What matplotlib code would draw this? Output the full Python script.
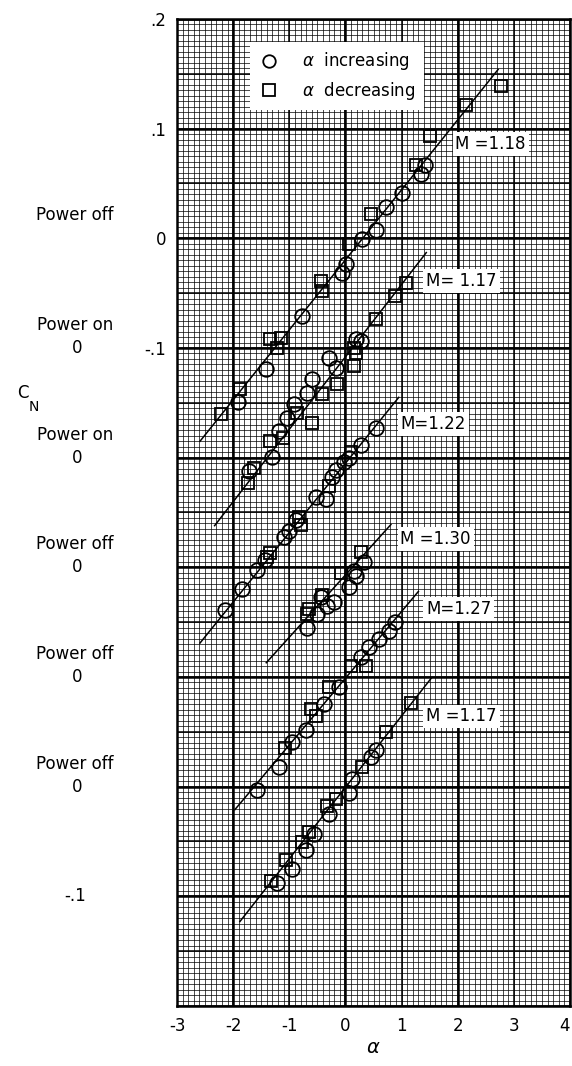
import numpy as np
import matplotlib.pyplot as plt
from matplotlib.lines import Line2D
from matplotlib.transforms import blended_transform_factory

plt.rcParams["font.family"] = ["DejaVu Sans"]

# each run is drawn on its own C_N scale, shifted down by 0.1 from the one above
panel_offsets = [0.0, -0.1, -0.2, -0.3, -0.4, -0.5]
mach_labels = ["M =1.18", "M= 1.17", "M=1.22", "M =1.30", "M=1.27", "M =1.17"]
power_labels = ["Power off", "Power on", "Power on", "Power off", "Power off", "Power off"]

# run 1, M = 1.18, power off
r1_circ_alpha = [1.42, 1.34, 1.00, 0.73, 0.54, 0.29, 0.01, -0.06, -0.77, -1.42, -1.92]
r1_circ_cn = [0.067, 0.059, 0.041, 0.029, 0.008, -0.001, -0.023, -0.032, -0.071, -0.119, -0.149]
r1_sq_alpha = [2.77, 2.15, 1.51, 1.25, 0.45, 0.06, -0.43, -0.42, -1.35, -1.14, -1.21, -1.88, -2.22]
r1_sq_cn = [0.139, 0.122, 0.093, 0.067, 0.022, -0.005, -0.039, -0.048, -0.092, -0.091, -0.100, -0.137, -0.160]
r1_fit_alpha = [-2.59, 2.72]
r1_fit_cn = [-0.185, 0.154]

# run 2, M = 1.17, power on
r2_circ_alpha = [0.19, 0.27, -0.29, -0.17, -0.59, -0.68, -0.91, -1.04, -1.18, -1.30, -1.71]
r2_circ_cn = [0.008, 0.006, -0.009, -0.018, -0.028, -0.041, -0.051, -0.064, -0.076, -0.099, -0.112]
r2_sq_alpha = [1.07, 0.89, 0.54, 0.15, 0.19, 0.15, -0.15, -0.42, -0.86, -0.59, -1.35, -1.12, -1.62, -1.74]
r2_sq_cn = [0.059, 0.047, 0.026, 0.000, -0.005, -0.016, -0.033, -0.042, -0.059, -0.068, -0.085, -0.082, -0.109, -0.123]
r2_fit_alpha = [-2.33, 1.44]
r2_fit_cn = [-0.162, 0.087]

# run 3, M = 1.22, power on
r3_circ_alpha = [0.54, 0.27, 0.06, -0.03, -0.17, -0.24, -0.52, -0.35, -0.88, -1.00, -1.09, -1.44, -1.58, -1.85, -2.15]
r3_circ_cn = [0.027, 0.012, 0.000, -0.004, -0.011, -0.018, -0.036, -0.038, -0.057, -0.067, -0.072, -0.093, -0.102, -0.120, -0.139]
r3_sq_alpha = [0.10, -0.29, -0.82, -0.79, -1.35, -1.39]
r3_sq_cn = [0.005, -0.026, -0.054, -0.061, -0.087, -0.091]
r3_fit_alpha = [-2.59, 0.95]
r3_fit_cn = [-0.169, 0.055]

# run 4, M = 1.30, power off
r4_circ_alpha = [0.33, 0.15, 0.19, 0.06, -0.20, -0.43, -0.50, -0.68, -0.33]
r4_circ_cn = [0.005, -0.003, -0.008, -0.018, -0.032, -0.027, -0.043, -0.055, -0.035]
r4_sq_alpha = [0.27, -0.08, -0.42, -0.65, -0.68]
r4_sq_cn = [0.014, -0.005, -0.025, -0.038, -0.043]
r4_fit_alpha = [-1.41, 0.81]
r4_fit_cn = [-0.087, 0.039]

# run 5, M = 1.27, power off
r5_circ_alpha = [0.89, 0.77, 0.59, 0.42, 0.27, -0.12, -0.38, -0.70, -0.95, -1.18, -1.57]
r5_circ_cn = [0.050, 0.042, 0.035, 0.027, 0.018, -0.009, -0.025, -0.048, -0.059, -0.082, -0.103]
r5_sq_alpha = [0.36, 0.10, -0.29, -0.52, -0.61, -1.07]
r5_sq_cn = [0.010, 0.010, -0.009, -0.036, -0.029, -0.065]
r5_fit_alpha = [-1.97, 1.30]
r5_fit_cn = [-0.121, 0.078]

# run 6, M = 1.17, power off
r6_circ_alpha = [0.54, 0.45, 0.12, 0.06, -0.29, -0.56, -0.70, -0.96, -1.21]
r6_circ_cn = [0.033, 0.027, 0.007, -0.006, -0.025, -0.043, -0.058, -0.075, -0.088]
r6_sq_alpha = [1.16, 0.73, 0.29, -0.17, -0.33, -0.65, -0.77, -1.05, -1.32]
r6_sq_cn = [0.076, 0.050, 0.018, -0.011, -0.018, -0.041, -0.050, -0.067, -0.086]
r6_fit_alpha = [-1.88, 1.53]
r6_fit_cn = [-0.123, 0.099]

runs = [
    (r1_circ_alpha, r1_circ_cn, r1_sq_alpha, r1_sq_cn, r1_fit_alpha, r1_fit_cn),
    (r2_circ_alpha, r2_circ_cn, r2_sq_alpha, r2_sq_cn, r2_fit_alpha, r2_fit_cn),
    (r3_circ_alpha, r3_circ_cn, r3_sq_alpha, r3_sq_cn, r3_fit_alpha, r3_fit_cn),
    (r4_circ_alpha, r4_circ_cn, r4_sq_alpha, r4_sq_cn, r4_fit_alpha, r4_fit_cn),
    (r5_circ_alpha, r5_circ_cn, r5_sq_alpha, r5_sq_cn, r5_fit_alpha, r5_fit_cn),
    (r6_circ_alpha, r6_circ_cn, r6_sq_alpha, r6_sq_cn, r6_fit_alpha, r6_fit_cn),
]

# where the Mach number tags sit (left edge, data coords)
label_pos = [(1.96, 0.086), (1.44, -0.039), (0.98, -0.169), (0.98, -0.274), (1.44, -0.338), (1.44, -0.436)]

x_ticks = [-3, -2, -1, 0, 1, 2, 3, 4]
y_ticks = [0.2, 0.1, 0.0, -0.1]
y_tick_labels = [".2", ".1", "0", "-.1"]

fig = plt.figure(figsize=(5.72, 10.66), dpi=100)
ax = fig.add_axes([177 / 572, 60 / 1066, 393 / 572, 987 / 1066])
ax.set_xlim(-3, 4)
ax.set_ylim(-0.70, 0.20)

# graph paper
ymin, ymax = ax.get_ylim()
ax.vlines(np.arange(-3, 4.001, 0.1), ymin, ymax, color="black", lw=0.55, alpha=0.9, zorder=0)
ax.hlines(np.arange(-0.70, 0.2001, 0.005), -3, 4, color="black", lw=0.55, alpha=0.9, zorder=0)
ax.vlines(np.arange(-3, 4.001, 1.0), ymin, ymax, color="black", lw=1.1, zorder=0)
ax.hlines(np.arange(-0.70, 0.2001, 0.05), -3, 4, color="black", lw=1.1, zorder=0)
ax.vlines([-2, 0, 2], ymin, ymax, color="black", lw=1.8, zorder=0)
ax.hlines(np.arange(-0.60, 0.2001, 0.1), -3, 4, color="black", lw=1.8, zorder=0)

mk = dict(linestyle="none", mfc="none", mec="black", mew=1.3, zorder=3)
for i, (ca, cc, sa, sc, fa, fc) in enumerate(runs):
    off = panel_offsets[i]
    ax.plot(fa, np.array(fc) + off, color="black", lw=1.1, zorder=2)
    ax.plot(ca, np.array(cc) + off, marker="o", ms=10.5, **mk)
    ax.plot(sa, np.array(sc) + off, marker="s", ms=9, **mk)
    lx, ly = label_pos[i]
    ax.text(lx, ly, mach_labels[i], fontsize=12, ha="left", va="center", zorder=4,
            bbox=dict(facecolor="white", edgecolor="none", pad=2))

for s in ax.spines.values():
    s.set_linewidth(1.8)

ax.set_xticks(x_ticks)
ax.set_xticklabels([str(t) for t in x_ticks], fontsize=12)
ax.get_xticklabels()[-1].set_ha("right")
ax.set_yticks(y_ticks)
ax.set_yticklabels(y_tick_labels, fontsize=12)
ax.tick_params(length=0, pad=8)
ax.set_xlabel(r"$\alpha$", fontsize=14, labelpad=2)

# left-hand scale notes, tied to each run's zero
tr = blended_transform_factory(fig.transFigure, ax.transData)
for i, off in enumerate(panel_offsets):
    ax.text(75 / 572, off + 0.021, power_labels[i], transform=tr, fontsize=12, ha="center", va="center")
    if i > 0:
        ax.text(77 / 572, off, "0", transform=tr, fontsize=12, ha="center", va="center")
ax.text(75 / 572, panel_offsets[-1] - 0.1, "-.1", transform=tr, fontsize=12, ha="center", va="center")
fig.text(17 / 572, 1 - 393 / 1066, "C", fontsize=12, ha="left", va="center")
fig.text(29 / 572, 1 - 407 / 1066, "N", fontsize=10, ha="left", va="center")

handles = [
    Line2D([], [], marker="o", ms=9, **mk),
    Line2D([], [], marker="s", ms=8, **mk),
]
leg = ax.legend(handles, [r"$\alpha$  increasing", r"$\alpha$  decreasing"], loc="upper left",
                bbox_to_anchor=(0.165, 0.985), fontsize=12, frameon=True, fancybox=False,
                handlelength=1.2, handletextpad=1.4, borderpad=0.5, labelspacing=0.45)
leg.get_frame().set_facecolor("white")
leg.get_frame().set_edgecolor("none")
leg.get_frame().set_alpha(1.0)

fig.savefig("out.png", dpi=100)
